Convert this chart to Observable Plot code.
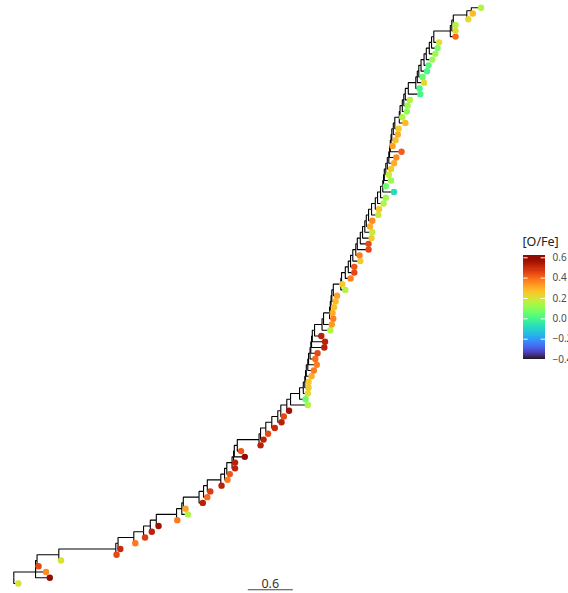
<!DOCTYPE html>
<html><head><meta charset="utf-8">
<script src="https://cdn.jsdelivr.net/npm/d3@7"></script>
<script src="https://cdn.jsdelivr.net/npm/@observablehq/plot@0.6"></script>
<style>
body{margin:0;background:#fff;font-family:"Liberation Sans",Arial,sans-serif}
#wrap{position:relative;width:568px;height:593px;overflow:hidden}
#legend{position:absolute;left:500px;top:230px}
#main{position:absolute;left:0;top:0}
</style>
</head><body><div id="wrap"><div id="main"></div><div id="legend"></div></div>
<script>
// tips ordered bottom -> top; distance from root (tree units)
const tipDist = [0.06,0.48,0.43,0.33,0.63,1.37,1.42,1.62,1.75,1.84,
1.93,2.18,2.32,2.29,2.52,2.58,2.62,2.77,2.85,2.88,
2.95,2.95,3.08,3.03,3.29,3.33,3.39,3.48,3.57,3.60,
3.67,3.92,3.89,3.92,3.93,3.93,3.97,4.00,4.04,4.02,
4.05,4.14,4.15,4.10,4.22,4.24,4.26,4.25,4.27,4.29,
4.31,4.42,4.38,4.49,4.54,4.54,4.62,4.61,4.73,4.73,
4.77,4.78,4.75,4.78,4.86,4.87,4.93,4.96,5.07,4.96,
5.03,5.00,5.03,5.07,5.10,5.17,5.05,5.09,5.12,5.13,
5.22,5.18,5.24,5.25,5.28,5.42,5.41,5.47,5.45,5.51,
5.53,5.58,5.62,5.65,5.67,5.89,5.89,5.89,6.06,6.12,6.23];
// distance of the internal node where each tip joins the backbone
const nodeDist = [0,0.29,0.29,0.31,0.60,1.36,1.39,1.60,1.73,1.82,
1.90,2.17,2.24,2.26,2.47,2.53,2.58,2.76,2.81,2.84,
2.91,2.93,2.94,2.98,3.27,3.29,3.36,3.44,3.52,3.56,
3.64,3.69,3.81,3.86,3.88,3.89,3.90,3.92,3.93,3.95,
3.96,3.97,3.98,4.01,4.11,4.13,4.21,4.22,4.23,4.24,
4.26,4.36,4.37,4.42,4.46,4.49,4.52,4.56,4.58,4.62,
4.65,4.68,4.70,4.73,4.77,4.82,4.85,4.89,4.92,4.93,
4.94,4.96,4.98,5.00,5.01,5.02,5.03,5.04,5.06,5.08,
5.14,5.15,5.18,5.20,5.22,5.26,5.36,5.38,5.40,5.43,
5.47,5.50,5.54,5.57,5.60,5.82,5.84,5.86,6.04,6.10];
// [O/Fe] of each tip
const oFe = [0.20,0.60,0.35,0.45,0.20,0.45,0.50,0.38,0.47,0.52,
0.56,0.38,0.15,0.32,0.52,0.40,0.47,0.52,0.38,0.43,
0.52,0.52,0.60,0.43,0.52,0.52,0.45,0.50,0.52,0.45,
0.56,0.15,0.05,0.22,0.25,0.25,0.30,0.38,0.37,0.40,
0.45,0.52,0.52,0.52,0.15,0.33,0.37,0.30,0.27,0.28,
0.32,0.15,0.25,0.37,0.45,0.43,0.25,0.37,0.45,0.45,
0.25,0.18,0.30,0.35,0.18,0.25,0.15,0.12,-0.08,0.05,
0.12,0.17,0.25,0.30,0.35,0.42,0.32,0.27,0.30,0.25,
0.28,0.15,0.10,0.12,0.15,0.00,0.00,0.22,0.05,0.00,
0.02,0.12,0.12,0.07,0.20,0.40,0.22,0.15,0.22,0.28,0.15];
const legendBreaks = [-0.4,-0.2,0.0,0.2,0.4,0.6];
const colorLimits = [-0.4,0.62];
const scaleBarLength = 0.6;

const N = tipDist.length;
const nodeY = new Array(N-1);
nodeY[N-2] = (N-2 + N-1)/2;
for (let k=N-3;k>=0;k--) nodeY[k] = (k + nodeY[k+1])/2;
const tips = tipDist.map((d,i)=>({x:d,y:i,v:oFe[i]}));
const edges = [];
for (let k=0;k<N-1;k++){
  edges.push({x1:nodeDist[k],y1:nodeY[k],x2:tipDist[k],y2:k});
  if (k<N-2) edges.push({x1:nodeDist[k],y1:nodeY[k],x2:nodeDist[k+1],y2:nodeY[k+1]});
  else edges.push({x1:nodeDist[k],y1:nodeY[k],x2:tipDist[N-1],y2:N-1});
}
const colorScale = {type:"linear", scheme:"turbo", domain:colorLimits};
const sbX = 3.12, sbY = -1.09;

const main = Plot.plot({
  width:568, height:593,
  x:{domain:[0,6.5], range:[13.3,500.8], axis:null},
  y:{domain:[0,100], range:[583,7.3], axis:null},
  color:colorScale,
  marks:[
    Plot.link(edges,{x1:"x1",y1:"y1",x2:"x2",y2:"y2",curve:"step-before",stroke:"#000",strokeWidth:1.1}),
    Plot.dot(tips,{x:"x",y:"y",fill:"v",r:3.2}),
    Plot.link([{a:sbX,b:sbX+scaleBarLength}],{x1:"a",x2:"b",y1:()=>sbY,y2:()=>sbY,stroke:"#444",strokeWidth:1.1}),
    Plot.text([scaleBarLength],{x:()=>sbX+scaleBarLength/2,y:()=>sbY,text:d=>String(d),dy:-6,fontSize:12.5,fill:"#333"})
  ]
});
document.getElementById("main").appendChild(main);

const step = 0.01;
const ramp = d3.range(0, Math.round((colorLimits[1]-colorLimits[0])/step)).map(i => colorLimits[0] + i*step);
const legend = Plot.plot({
  width:68, height:140,
  x:{domain:[0,1], range:[23.3,45], axis:null},
  y:{domain:[-0.4,0.6], range:[129,27.3], axis:null},
  color:colorScale,
  marks:[
    Plot.rect(ramp,{x1:0,x2:1,y1:d=>d,y2:d=>Math.min(d+step*1.6,colorLimits[1]),fill:d=>d+step/2,shapeRendering:"crispEdges"}),
    Plot.ruleY(legendBreaks,{x1:0,x2:0.2,stroke:"white",strokeWidth:1}),
    Plot.ruleY(legendBreaks,{x1:0.8,x2:1,stroke:"white",strokeWidth:1}),
    Plot.text(legendBreaks,{x:1,y:d=>d,text:d=>d3.format(".1f")(d),textAnchor:"start",dx:7,fontSize:10,fill:"#4d4d4d"}),
    Plot.text(["[O/Fe]"],{frameAnchor:"top-left",dx:22,dy:7,fontSize:12.5,fill:"#222"})
  ]
});
document.getElementById("legend").appendChild(legend);
</script>
</body></html>
